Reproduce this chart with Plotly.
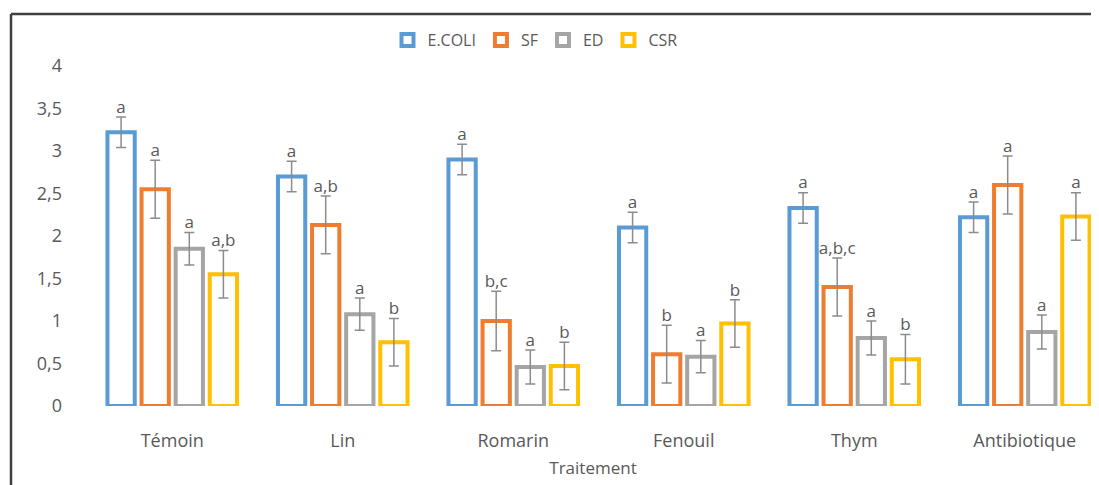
import plotly.graph_objects as go

categories = ["Témoin", "Lin", "Romarin", "Fenouil", "Thym", "Antibiotique"]
series_names = ["E.COLI", "SF", "ED", "CSR"]

ecoli = [3.22, 2.70, 2.90, 2.10, 2.33, 2.22]
sf = [2.55, 2.13, 1.00, 0.61, 1.40, 2.60]
ed = [1.85, 1.08, 0.46, 0.58, 0.80, 0.87]
csr = [1.55, 0.75, 0.47, 0.97, 0.55, 2.23]

ecoli_err = [0.18, 0.18, 0.18, 0.18, 0.18, 0.18]
sf_err = [0.34, 0.34, 0.35, 0.34, 0.34, 0.34]
ed_err = [0.19, 0.19, 0.20, 0.19, 0.20, 0.20]
csr_err = [0.28, 0.28, 0.28, 0.28, 0.29, 0.28]

ecoli_letters = ["a", "a", "a", "a", "a", "a"]
sf_letters = ["a", "a,b", "b,c", "b", "a,b,c", "a"]
ed_letters = ["a", "a", "a", "a", "a", "a"]
csr_letters = ["a,b", "b", "b", "b", "b", "a"]

values = [ecoli, sf, ed, csr]
errors = [ecoli_err, sf_err, ed_err, csr_err]
letters = [ecoli_letters, sf_letters, ed_letters, csr_letters]
colors = ["#5B9BD5", "#ED7D31", "#A5A5A5", "#FFC000"]

FONT = "Open Sans"
TXT = "#595959"

fig = go.Figure()
for name, v, e, c in zip(series_names, values, errors, colors):
    fig.add_trace(go.Bar(
        x=categories, y=v, name=name,
        marker=dict(color="white", line=dict(color=c, width=4)),
        error_y=dict(type="data", array=e, visible=True, color="#8C8C8C",
                     thickness=1.5, width=5),
        cliponaxis=False,
    ))
for v, e, t in zip(values, errors, letters):
    fig.add_trace(go.Scatter(
        x=categories, y=[a + b for a, b in zip(v, e)], text=t,
        mode="text", textposition="top center",
        textfont=dict(family=FONT, size=17, color=TXT),
        showlegend=False, hoverinfo="skip", cliponaxis=False,
    ))

OFF = 8  # page body margin
W, H = 1099 - OFF, 485 - OFF
L, R, T, B = 87 - OFF, 0, 66 - OFF, 79
pw = W - L - R
ph = H - T - B

def px_x(p):
    return (p - OFF - L) / pw

def px_y(p):
    return (H - B - (p - OFF)) / ph

frame = dict(color="#404040", width=2.5)
fig.add_shape(type="line", xref="paper", yref="paper",
              x0=px_x(11), x1=px_x(1110), y0=px_y(14), y1=px_y(14), line=frame)
fig.add_shape(type="line", xref="paper", yref="paper",
              x0=px_x(11), x1=px_x(11), y0=px_y(14), y1=px_y(495), line=frame)

fig.update_layout(
    width=W, height=H, autosize=False,
    margin=dict(l=L, r=R, t=T, b=B, pad=0),
    plot_bgcolor="white", paper_bgcolor="white",
    barmode="group", bargap=0.2, bargroupgap=0.2,
    scattermode="group", scattergap=0.2,
    separators=", ",
    font=dict(family=FONT, size=17, color=TXT),
    legend=dict(orientation="h", x=px_x(535), xanchor="center",
                y=px_y(40), yanchor="middle",
                font=dict(family=FONT, size=16, color=TXT),
                itemwidth=30, bgcolor="rgba(0,0,0,0)"),
    showlegend=True,
)
fig.update_xaxes(
    type="category", range=[-0.5, -0.5 + pw / 170.5],
    showline=False, showgrid=False, zeroline=False, ticks="",
    ticklabelstandoff=22,
    tickfont=dict(family=FONT, size=18, color=TXT),
    title=dict(text="Traitement", standoff=11,
               font=dict(family=FONT, size=17, color=TXT)),
)
fig.update_yaxes(
    range=[0, 4], dtick=0.5, tick0=0,
    showline=False, showgrid=False, zeroline=False, ticks="",
    ticklabelstandoff=24,
    tickfont=dict(family=FONT, size=18, color=TXT),
)

fig.write_html("out.html")
